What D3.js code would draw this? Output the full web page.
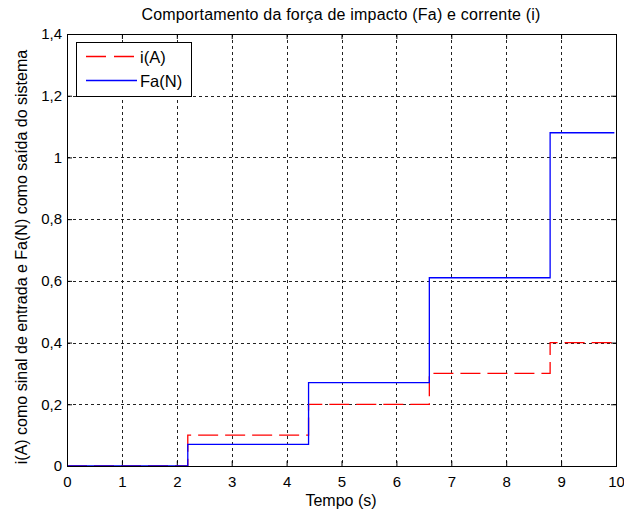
<!DOCTYPE html>
<html>
<head>
<meta charset="utf-8">
<script src="https://cdn.jsdelivr.net/npm/d3@7"></script>
<style>
  body { margin: 0; background: #fff; }
  text { font-family: "Liberation Sans", Arial, sans-serif; fill: #000; }
</style>
</head>
<body>
<script>
// Step signals
const corrente = [ // i(A)
  { t: 0, v: 0 }, { t: 2.2, v: 0.1 }, { t: 4.4, v: 0.2 },
  { t: 6.6, v: 0.3 }, { t: 8.8, v: 0.4 }, { t: 10, v: 0.4 }
];
const forca = [ // Fa(N)
  { t: 0, v: 0 }, { t: 2.2, v: 0.07 }, { t: 4.4, v: 0.27 },
  { t: 6.6, v: 0.61 }, { t: 8.8, v: 1.08 }, { t: 9.97, v: 1.08 }
];
const xTicks = [0, 1, 2, 3, 4, 5, 6, 7, 8, 9, 10];
const yTicks = [0, 0.2, 0.4, 0.6, 0.8, 1, 1.2, 1.4];

const W = 624, H = 515;
const mLeft = 67, mRight = 616, mTop = 34, mBottom = 466;

const svg = d3.select("body").append("svg")
  .attr("width", W)
  .attr("height", H);

const x = d3.scaleLinear().domain([0, 10]).range([mLeft, mRight]);
const y = d3.scaleLinear().domain([0, 1.4]).range([mBottom, mTop]);

const fmt = d => String(d).replace(".", ",");

// grid
const grid = svg.append("g")
  .attr("stroke", "#222")
  .attr("stroke-width", 1)
  .attr("stroke-dasharray", "3,3")
  .attr("shape-rendering", "crispEdges");
grid.selectAll(".gx").data(xTicks.slice(1, -1)).enter().append("line")
  .attr("x1", d => Math.round(x(d)) + 0.5).attr("x2", d => Math.round(x(d)) + 0.5)
  .attr("y1", mTop).attr("y2", mBottom);
grid.selectAll(".gy").data(yTicks.slice(1, -1)).enter().append("line")
  .attr("y1", d => Math.round(y(d)) + 0.5).attr("y2", d => Math.round(y(d)) + 0.5)
  .attr("x1", mLeft).attr("x2", mRight);

// axes (ticks inward, mirrored)
const tick = 5;
const xAxis = d3.axisBottom(x).tickValues(xTicks).tickSizeInner(-tick).tickSizeOuter(0).tickPadding(10).tickFormat(fmt);
const xAxisTop = d3.axisTop(x).tickValues(xTicks).tickSizeInner(-tick).tickSizeOuter(0).tickFormat("");
const yAxis = d3.axisLeft(y).tickValues(yTicks).tickSizeInner(-tick).tickSizeOuter(0).tickPadding(5).tickFormat(fmt);
const yAxisRight = d3.axisRight(y).tickValues(yTicks).tickSizeInner(-tick).tickSizeOuter(0).tickFormat("");

function style(g) {
  g.select(".domain").remove();
  g.selectAll("line").attr("stroke", "#000");
  g.selectAll("text").attr("font-size", 15).attr("font-family", "Liberation Sans, Arial, sans-serif").attr("fill", "#000");
}
svg.append("g").attr("transform", `translate(0,${mBottom})`).call(xAxis).call(style);
svg.append("g").attr("transform", `translate(0,${mTop})`).call(xAxisTop).call(style);
svg.append("g").attr("transform", `translate(${mLeft},0)`).call(yAxis).call(style);
svg.append("g").attr("transform", `translate(${mRight},0)`).call(yAxisRight).call(style);

// lines
const line = d3.line().curve(d3.curveStepAfter).x(d => x(d.t)).y(d => y(d.v));
svg.append("path").datum(corrente)
  .attr("d", line).attr("fill", "none")
  .attr("stroke", "#ff0000").attr("stroke-width", 1.3)
  .attr("stroke-dasharray", "20,7");
svg.append("path").datum(forca)
  .attr("d", line).attr("fill", "none")
  .attr("stroke", "#0000ff").attr("stroke-width", 1.3);

// box
svg.append("rect")
  .attr("x", mLeft + 0.5).attr("y", mTop + 0.5)
  .attr("width", mRight - mLeft).attr("height", mBottom - mTop)
  .attr("fill", "none").attr("stroke", "#000").attr("stroke-width", 1)
  .attr("shape-rendering", "crispEdges");

// legend
const leg = svg.append("g");
leg.append("rect")
  .attr("x", 76.5).attr("y", 42.5).attr("width", 115).attr("height", 54)
  .attr("fill", "#fff").attr("stroke", "#000").attr("shape-rendering", "crispEdges");
const legItems = [
  { name: "i(A)", color: "#ff0000", dash: "20,8" },
  { name: "Fa(N)", color: "#0000ff", dash: null }
];
legItems.forEach((d, i) => {
  const yy = 56.5 + i * 24;
  leg.append("line")
    .attr("x1", 86).attr("x2", 137).attr("y1", yy).attr("y2", yy)
    .attr("stroke", d.color).attr("stroke-width", 1.3)
    .attr("stroke-dasharray", d.dash);
  leg.append("text")
    .attr("x", 140).attr("y", yy + 6)
    .attr("font-size", 16.5)
    .text(d.name);
});

// title and labels
svg.append("text")
  .attr("x", 341).attr("y", 20)
  .attr("text-anchor", "middle").attr("font-size", 16)
  .attr("letter-spacing", 0.2)
  .text("Comportamento da força de impacto (Fa) e corrente (i)");
svg.append("text")
  .attr("x", 341).attr("y", 506)
  .attr("text-anchor", "middle").attr("font-size", 16)
  .text("Tempo (s)");
svg.append("text")
  .attr("transform", `translate(27,257) rotate(-90)`)
  .attr("text-anchor", "middle").attr("font-size", 16)
  .text("i(A) como sinal de entrada e Fa(N) como saída do sistema");
</script>
</body>
</html>
